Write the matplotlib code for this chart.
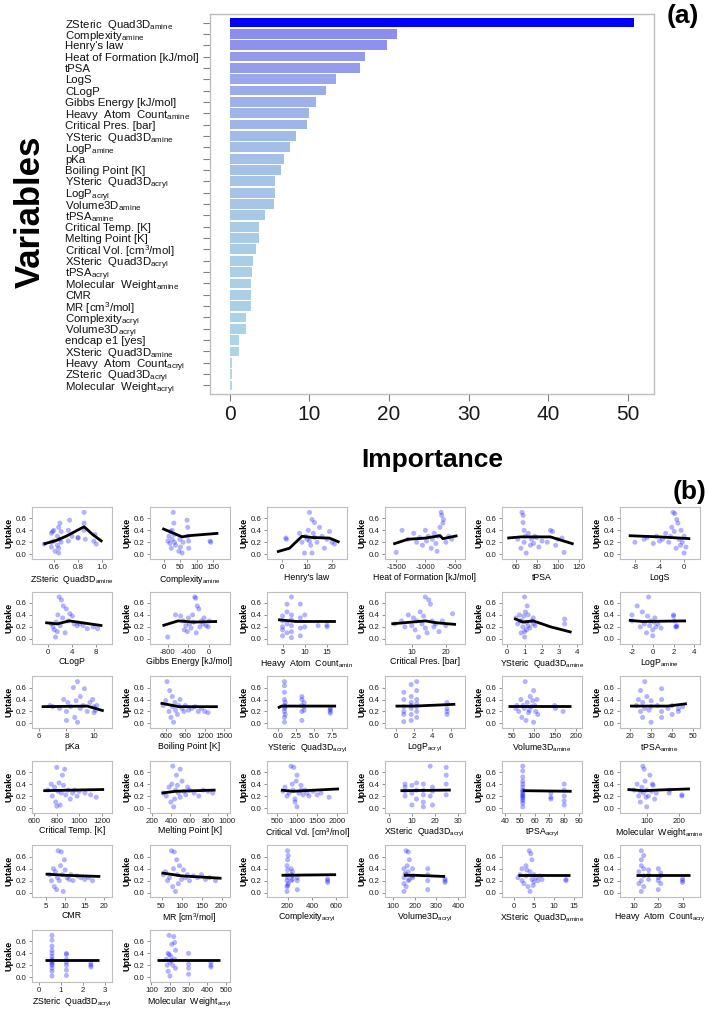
import matplotlib
matplotlib.use('Agg')
import matplotlib.pyplot as plt
import matplotlib.transforms as mtransforms
from matplotlib.colors import LinearSegmentedColormap, Normalize

plt.rcParams['font.family'] = ['Liberation Sans', 'DejaVu Sans']
plt.rcParams['mathtext.fontset'] = 'custom'
plt.rcParams['mathtext.rm'] = 'Liberation Sans'
plt.rcParams['mathtext.it'] = 'Liberation Sans:italic'
plt.rcParams['mathtext.bf'] = 'Liberation Sans:bold'
plt.rcParams['axes.unicode_minus'] = False

# ---------------- panel (a): variable importance ----------------
variables = [
    r'ZSteric  Quad3D$_{\mathrm{amine}}$', r'Complexity$_{\mathrm{amine}}$', "Henry's law",
    'Heat of Formation [kJ/mol]', 'tPSA', 'LogS', 'CLogP', 'Gibbs Energy [kJ/mol]',
    r'Heavy  Atom  Count$_{\mathrm{amine}}$', 'Critical Pres. [bar]',
    r'YSteric  Quad3D$_{\mathrm{amine}}$', r'LogP$_{\mathrm{amine}}$', 'pKa', 'Boiling Point [K]',
    r'YSteric  Quad3D$_{\mathrm{acryl}}$', r'LogP$_{\mathrm{acryl}}$', r'Volume3D$_{\mathrm{amine}}$',
    r'tPSA$_{\mathrm{amine}}$', 'Critical Temp. [K]', 'Melting Point [K]',
    r'Critical Vol. [cm$^{3}$/mol]', r'XSteric  Quad3D$_{\mathrm{acryl}}$', r'tPSA$_{\mathrm{acryl}}$',
    r'Molecular  Weight$_{\mathrm{amine}}$', 'CMR', r'MR [cm$^{3}$/mol]', r'Complexity$_{\mathrm{acryl}}$',
    r'Volume3D$_{\mathrm{acryl}}$', 'endcap e1 [yes]', r'XSteric  Quad3D$_{\mathrm{amine}}$',
    r'Heavy  Atom  Count$_{\mathrm{acryl}}$', r'ZSteric  Quad3D$_{\mathrm{acryl}}$',
    r'Molecular  Weight$_{\mathrm{acryl}}$']
importance = [50.8, 21.0, 19.8, 17.0, 16.3, 13.3, 12.1, 10.8, 10.0, 9.7, 8.3, 7.5, 6.8,
              6.4, 5.7, 5.65, 5.5, 4.4, 3.6, 3.6, 3.3, 2.85, 2.8, 2.7, 2.65, 2.6, 2.0,
              2.0, 1.15, 1.1, 0.3, 0.25, 0.25]
importance_ticks = [0, 10, 20, 30, 40, 50]

# ---------------- panel (b): partial dependence plots ----------------
zs_amine_x = [0.52, 0.58, 0.58, 0.58, 0.59, 0.60, 0.60, 0.61, 0.63, 0.63, 0.64, 0.64, 0.64, 0.65, 0.65,
              0.66, 0.66, 0.72, 0.72, 0.73, 0.75, 0.80, 0.80, 0.85, 0.85, 0.85, 0.86, 0.93, 0.94, 0.95]
zs_amine_y = [0.17, 0.12, 0.20, 0.35, 0.38, 0.40, 0.22, 0.05, 0.15, 0.30, 0.02, 0.10, 0.45, 0.25, 0.52,
              0.20, 0.38, 0.22, 0.40, 0.57, 0.30, 0.27, 0.28, 0.70, 0.52, 0.40, 0.25, 0.22, 0.33, 0.17]
zs_amine_fx = [0.515, 0.62, 0.70, 0.85, 0.92, 1.0]
zs_amine_fy = [0.17, 0.23, 0.30, 0.46, 0.33, 0.21]

cx_amine_x = [12, 15, 18, 20, 22, 25, 25, 28, 30, 30, 32, 35, 45, 48, 50, 55, 58, 70, 72, 72, 75, 75, 140, 142]
cx_amine_y = [0.22, 0.30, 0.18, 0.38, 0.10, 0.25, 0.40, 0.70, 0.52, 0.33, 0.20, 0.15, 0.05, 0.25, 0.12,
              0.02, 0.20, 0.57, 0.45, 0.30, 0.22, 0.10, 0.22, 0.20]
cx_amine_fx = [-5, 25, 55, 75, 165]
cx_amine_fy = [0.43, 0.36, 0.29, 0.31, 0.35]

henry_x = [1.5, 1.8, 7, 8, 9, 9.5, 10, 10.5, 11, 11, 11.5, 12, 12, 12.5, 13, 13, 14, 15, 16, 17, 18, 19, 20, 21]
henry_y = [0.27, 0.25, 0.35, 0.20, 0.02, 0.30, 0.25, 0.40, 0.70, 0.22, 0.15, 0.58, 0.02, 0.35, 0.53,
           0.28, 0.20, 0.45, 0.30, 0.10, 0.25, 0.38, 0.20, 0.17]
henry_fx = [-2, 3, 8, 12, 19, 23]
henry_fy = [0.04, 0.10, 0.30, 0.28, 0.27, 0.20]

heat_x = [-1500, -1400, -1300, -1200, -1150, -1100, -1050, -1000, -980, -950, -900, -880, -850, -820,
          -800, -780, -750, -730, -720, -700, -690, -650, -600, -550]
heat_y = [0.03, 0.40, 0.25, 0.35, 0.20, 0.28, 0.15, 0.40, 0.22, 0.30, 0.10, 0.25, 0.35, 0.18, 0.05,
          0.30, 0.45, 0.70, 0.65, 0.52, 0.58, 0.20, 0.30, 0.25]
heat_fx = [-1550, -1300, -1000, -750, -700, -450]
heat_fy = [0.17, 0.25, 0.27, 0.31, 0.26, 0.31]

tpsa_x = [62, 65, 66, 67, 67, 68, 68, 69, 70, 72, 74, 75, 77, 78, 80, 82, 85, 90, 93, 95, 98, 100, 104, 106]
tpsa_y = [0.25, 0.10, 0.70, 0.65, 0.53, 0.40, 0.20, 0.30, 0.02, 0.35, 0.15, 0.25, 0.18, 0.30, 0.28,
          0.12, 0.22, 0.20, 0.40, 0.38, 0.15, 0.25, 0.27, 0.03]
tpsa_fx = [52, 65, 93, 115]
tpsa_fy = [0.27, 0.29, 0.29, 0.17]

logs_x = [-8, -6.5, -6, -5, -4.5, -4, -3.5, -3, -2.5, -2.2, -2, -1.8, -1.6, -1.5, -1.3, -1.2, -1,
          -0.8, -0.6, -0.5, -0.3, 0, 0, 0.3]
logs_y = [0.20, 0.25, 0.28, 0.18, 0.30, 0.22, 0.25, 0.35, 0.20, 0.30, 0.45, 0.70, 0.38, 0.68, 0.10,
          0.58, 0.52, 0.25, 0.15, 0.40, 0.20, 0.02, 0.30, 0.12]
logs_fx = [-9, -4, 1]
logs_fy = [0.31, 0.29, 0.26]

clogp_x = [0.5, 0.8, 1.0, 1.2, 1.3, 1.5, 1.6, 1.8, 2.0, 2.2, 2.4, 2.5, 2.8, 3.0, 3.3, 3.6, 4.0, 4.3,
           4.8, 5.2, 5.8, 6.5, 7.5, 8.2]
clogp_y = [0.25, 0.20, 0.15, 0.03, 0.28, 0.12, 0.40, 0.70, 0.22, 0.65, 0.35, 0.55, 0.10, 0.50, 0.30,
           0.42, 0.38, 0.25, 0.22, 0.25, 0.22, 0.17, 0.20, 0.17]
clogp_fx = [-0.5, 1.5, 3.5, 9]
clogp_fy = [0.27, 0.25, 0.30, 0.22]

gibbs_x = [-800, -650, -550, -500, -480, -450, -420, -400, -380, -350, -320, -300, -280, -260, -250,
           -230, -200, -180, -150, -120, -100, -60, -20, 0]
gibbs_y = [0.03, 0.40, 0.38, 0.30, 0.15, 0.22, 0.12, 0.35, 0.25, 0.18, 0.40, 0.28, 0.70, 0.68, 0.10,
           0.55, 0.50, 0.20, 0.30, 0.25, 0.35, 0.22, 0.20, 0.30]
gibbs_fx = [-900, -600, -300, 150]
gibbs_fy = [0.22, 0.30, 0.28, 0.29]

hac_amine_x = [5, 5, 5, 5, 5, 6, 6, 6, 6, 7, 7, 7, 7, 7, 7, 9, 9, 9, 9, 10, 10, 13, 15, 15]
hac_amine_y = [0.05, 0.20, 0.30, 0.38, 0.15, 0.10, 0.25, 0.45, 0.58, 0.02, 0.12, 0.22, 0.32, 0.40, 0.70,
               0.05, 0.18, 0.35, 0.58, 0.20, 0.40, 0.22, 0.20, 0.23]
hac_amine_fx = [4, 8, 17]
hac_amine_fy = [0.32, 0.29, 0.29]

crit_pres_x = [5, 7, 8, 9, 10, 10.5, 11, 11.5, 12, 12.5, 13, 13.5, 14, 14, 14.5, 15, 15.5, 16, 16.5,
               17, 18, 19, 20, 22]
crit_pres_y = [0.25, 0.30, 0.20, 0.40, 0.22, 0.35, 0.15, 0.30, 0.03, 0.45, 0.25, 0.38, 0.70, 0.18, 0.10,
               0.65, 0.58, 0.30, 0.20, 0.25, 0.12, 0.30, 0.22, 0.42]
crit_pres_fx = [4, 10, 14, 17, 23]
crit_pres_fy = [0.25, 0.28, 0.30, 0.27, 0.24]

ys_amine_x = [0.5, 0.6, 0.7, 0.8, 0.85, 0.9, 0.95, 1.0, 1.0, 1.05, 1.1, 1.1, 1.15, 1.2, 1.2, 1.3, 1.4,
              1.5, 1.5, 1.6, 3.3, 3.3, 1.0, 0.75]
ys_amine_y = [0.35, 0.25, 0.40, 0.10, 0.30, 0.20, 0.38, 0.70, 0.03, 0.45, 0.15, 0.28, 0.55, 0.22, 0.40,
              0.18, 0.30, 0.25, 0.35, 0.22, 0.33, 0.25, 0.12, 0.30]
ys_amine_fx = [0.4, 0.9, 1.5, 2.5, 3.7]
ys_amine_fy = [0.34, 0.28, 0.30, 0.20, 0.11]

logp_amine_x = [-2, -2, -1.5, -1.2, -1, -0.8, -0.6, -0.5, -0.4, -0.3, -0.2, 0, 0, 0.1, 0.2, 0.3, 0.5,
                0.8, 2, 2, 2.1, 2.2, 2.3, 2.3]
logp_amine_y = [0.40, 0.30, 0.55, 0.20, 0.45, 0.25, 0.10, 0.38, 0.70, 0.22, 0.30, 0.05, 0.15, 0.28, 0.35,
                0.20, 0.25, 0.18, 0.40, 0.38, 0.30, 0.20, 0.22, 0.20]
logp_amine_fx = [-2.3, -1, 3.2]
logp_amine_fy = [0.31, 0.29, 0.30]

pka_x = [6.8, 7.5, 7.8, 8.0, 8.0, 8.1, 8.3, 8.5, 8.6, 8.7, 8.8, 8.8, 9.0, 9.0, 9.2, 9.3, 9.5, 9.7,
         9.9, 10.0, 10.0, 10.1, 10.2, 7.0]
pka_y = [0.30, 0.25, 0.40, 0.05, 0.20, 0.35, 0.28, 0.60, 0.10, 0.38, 0.70, 0.02, 0.25, 0.45, 0.30,
         0.58, 0.20, 0.35, 0.40, 0.18, 0.28, 0.22, 0.30, 0.28]
pka_fx = [6.2, 9.5, 10.7]
pka_fy = [0.28, 0.29, 0.21]

boil_x = [560, 600, 620, 650, 660, 680, 700, 700, 720, 740, 750, 780, 800, 820, 850, 880, 900, 950,
          1000, 1050, 1100, 1150, 1200, 1250]
boil_y = [0.30, 0.38, 0.70, 0.20, 0.55, 0.10, 0.28, 0.45, 0.02, 0.35, 0.22, 0.15, 0.30, 0.40, 0.25,
          0.20, 0.30, 0.22, 0.25, 0.28, 0.20, 0.25, 0.20, 0.18]
boil_fx = [520, 800, 1400]
boil_fy = [0.34, 0.28, 0.28]

ys_acryl_x = [0.9, 0.9, 0.9, 0.9, 0.9, 0.9, 0.9, 0.9, 0.9, 1.0, 1.0, 1.0, 3.3, 3.3, 3.3, 3.3, 3.3,
              3.6, 3.6, 3.6, 7.2, 7.2, 7.2, 7.2]
ys_acryl_y = [0.02, 0.10, 0.20, 0.25, 0.30, 0.40, 0.52, 0.63, 0.70, 0.15, 0.35, 0.28, 0.05, 0.20, 0.30,
              0.40, 0.45, 0.22, 0.28, 0.35, 0.17, 0.20, 0.23, 0.25]
ys_acryl_fx = [0, 0.5, 8]
ys_acryl_fy = [0.26, 0.29, 0.29]

logp_acryl_x = [0.9, 0.9, 0.9, 0.9, 0.9, 1.7, 1.7, 1.7, 1.7, 1.7, 1.7, 2.3, 2.3, 2.3, 2.3, 2.3, 2.3,
                2.3, 5.6, 5.6, 5.6, 5.6, 1.7, 0.9]
logp_acryl_y = [0.03, 0.20, 0.28, 0.40, 0.52, 0.05, 0.15, 0.25, 0.35, 0.45, 0.65, 0.10, 0.20, 0.28, 0.33,
                0.40, 0.55, 0.70, 0.15, 0.20, 0.25, 0.35, 0.30, 0.15]
logp_acryl_fx = [0, 2, 6.5]
logp_acryl_fy = [0.29, 0.29, 0.32]

vol_amine_x = [60, 65, 70, 72, 75, 78, 80, 82, 85, 88, 90, 92, 95, 98, 100, 100, 103, 105, 108, 110,
               150, 152, 170, 58]
vol_amine_y = [0.30, 0.20, 0.40, 0.10, 0.30, 0.25, 0.70, 0.05, 0.35, 0.18, 0.22, 0.45, 0.28, 0.38, 0.55,
               0.02, 0.30, 0.20, 0.40, 0.15, 0.30, 0.25, 0.20, 0.25]
vol_amine_fx = [40, 190]
vol_amine_fy = [0.29, 0.29]

tpsa_amine_x = [23, 24, 25, 25, 26, 26, 27, 27, 28, 30, 30, 30, 33, 35, 35, 35, 35, 38, 40, 40, 43, 43, 45, 29]
tpsa_amine_y = [0.30, 0.40, 0.20, 0.55, 0.10, 0.35, 0.25, 0.70, 0.45, 0.02, 0.28, 0.38, 0.30, 0.10, 0.20,
                0.40, 0.58, 0.25, 0.15, 0.30, 0.20, 0.25, 0.28, 0.22]
tpsa_amine_fx = [20, 38, 47]
tpsa_amine_fy = [0.29, 0.29, 0.33]

crit_temp_x = [720, 760, 780, 790, 800, 810, 820, 830, 840, 850, 860, 880, 900, 920, 940, 960, 980,
               1000, 1050, 1100, 1150, 800, 870, 750]
crit_temp_y = [0.30, 0.20, 0.35, 0.10, 0.68, 0.28, 0.42, 0.05, 0.25, 0.55, 0.38, 0.22, 0.30, 0.15, 0.25,
               0.30, 0.20, 0.28, 0.25, 0.22, 0.18, 0.03, 0.65, 0.40]
crit_temp_fx = [680, 1220]
crit_temp_fy = [0.29, 0.31]

melt_x = [320, 350, 380, 400, 410, 420, 430, 450, 460, 480, 500, 500, 520, 540, 560, 580, 600, 650,
          700, 750, 800, 850, 470, 440]
melt_y = [0.25, 0.20, 0.35, 0.10, 0.40, 0.70, 0.02, 0.30, 0.55, 0.25, 0.65, 0.18, 0.45, 0.28, 0.22,
          0.35, 0.30, 0.25, 0.20, 0.30, 0.28, 0.25, 0.38, 0.15]
melt_fx = [300, 450, 880]
melt_fy = [0.25, 0.28, 0.30]

crit_vol_x = [650, 700, 750, 800, 850, 880, 900, 920, 950, 980, 1000, 1050, 1100, 1150, 1200, 1250,
              1300, 1400, 1500, 1600, 1800, 1000, 950, 1100]
crit_vol_y = [0.28, 0.35, 0.20, 0.25, 0.70, 0.40, 0.30, 0.68, 0.10, 0.45, 0.02, 0.25, 0.38, 0.22, 0.30,
              0.25, 0.20, 0.28, 0.22, 0.25, 0.18, 0.55, 0.15, 0.30]
crit_vol_fx = [600, 900, 2050]
crit_vol_fy = [0.30, 0.28, 0.32]

xs_acryl_x = [7, 7, 7, 7, 10, 10, 10, 12, 12, 12, 15, 15, 15, 15, 15, 18, 18, 19, 19, 19, 25, 25, 25, 25]
xs_acryl_y = [0.20, 0.28, 0.35, 0.40, 0.05, 0.25, 0.38, 0.15, 0.30, 0.42, 0.02, 0.10, 0.22, 0.30, 0.40,
              0.20, 0.70, 0.05, 0.28, 0.35, 0.22, 0.40, 0.55, 0.68]
xs_acryl_fx = [5, 27]
xs_acryl_fy = [0.29, 0.30]

tpsa_acryl_x = [52, 52, 52, 52, 52, 52, 52, 52, 52, 52, 52, 52, 52, 52, 52, 52, 71, 71, 71, 80, 80, 80, 80, 80]
tpsa_acryl_y = [0.02, 0.08, 0.12, 0.15, 0.18, 0.20, 0.22, 0.25, 0.28, 0.30, 0.35, 0.40, 0.45, 0.52, 0.62,
                0.70, 0.15, 0.18, 0.25, 0.05, 0.12, 0.20, 0.30, 0.40]
tpsa_acryl_fx = [52, 85]
tpsa_acryl_fy = [0.29, 0.28]

mw_amine_x = [60, 70, 75, 80, 85, 88, 90, 95, 100, 100, 105, 110, 115, 120, 125, 130, 170, 172, 210, 210,
              92, 98, 118, 80]
mw_amine_y = [0.30, 0.40, 0.20, 0.10, 0.35, 0.70, 0.25, 0.45, 0.02, 0.30, 0.20, 0.55, 0.28, 0.38, 0.15,
              0.25, 0.25, 0.30, 0.20, 0.22, 0.65, 0.18, 0.40, 0.28]
mw_amine_fx = [40, 90, 130, 235]
mw_amine_fy = [0.31, 0.29, 0.30, 0.32]

cmr_x = [6, 6.5, 7, 7.2, 7.5, 7.8, 8, 8.2, 8.5, 8.8, 9, 9.3, 9.5, 10, 10.5, 11, 11.5, 12, 13, 14, 15, 16, 17, 9.8]
cmr_y = [0.30, 0.20, 0.40, 0.10, 0.35, 0.05, 0.25, 0.70, 0.20, 0.45, 0.68, 0.30, 0.02, 0.38, 0.25,
         0.22, 0.30, 0.20, 0.28, 0.25, 0.22, 0.25, 0.20, 0.55]
cmr_fx = [5, 10, 19]
cmr_fy = [0.31, 0.29, 0.27]

mr_x = [55, 60, 65, 70, 75, 78, 80, 82, 85, 88, 90, 95, 100, 105, 110, 115, 120, 130, 140, 150, 160,
        170, 185, 92]
mr_y = [0.30, 0.35, 0.20, 0.25, 0.70, 0.10, 0.40, 0.68, 0.02, 0.55, 0.30, 0.45, 0.22, 0.38, 0.25,
        0.30, 0.20, 0.28, 0.25, 0.30, 0.22, 0.25, 0.20, 0.15]
mr_fx = [50, 100, 200]
mr_fy = [0.33, 0.28, 0.24]

cx_acryl_x = [195, 195, 195, 195, 195, 200, 200, 200, 200, 205, 205, 230, 230, 230, 240, 240, 240,
              280, 280, 280, 530, 530, 530, 200]
cx_acryl_y = [0.02, 0.10, 0.20, 0.30, 0.45, 0.12, 0.25, 0.38, 0.70, 0.15, 0.62, 0.20, 0.30, 0.40, 0.22,
              0.28, 0.35, 0.05, 0.20, 0.25, 0.17, 0.20, 0.23, 0.55]
cx_acryl_fx = [150, 600]
cx_acryl_fy = [0.29, 0.30]

vol_acryl_x = [150, 150, 150, 150, 160, 160, 160, 170, 170, 170, 175, 175, 190, 190, 190, 260, 260,
               260, 260, 340, 340, 340, 165, 155]
vol_acryl_y = [0.02, 0.15, 0.25, 0.40, 0.10, 0.30, 0.70, 0.20, 0.35, 0.68, 0.22, 0.55, 0.25, 0.28, 0.40,
               0.05, 0.20, 0.30, 0.40, 0.17, 0.20, 0.23, 0.45, 0.32]
vol_acryl_fx = [150, 200, 340]
vol_acryl_fy = [0.29, 0.29, 0.27]

xs_amine_x = [1, 1.5, 2, 2, 2.5, 3, 3, 3.5, 3.8, 4, 4, 4.2, 4.5, 4.5, 5, 5, 5.5, 6, 6.5, 7, 13, 13, 3.2, 4.8]
xs_amine_y = [0.25, 0.30, 0.20, 0.40, 0.15, 0.28, 0.45, 0.10, 0.70, 0.02, 0.35, 0.65, 0.22, 0.55, 0.30,
              0.18, 0.25, 0.20, 0.28, 0.22, 0.20, 0.22, 0.38, 0.12]
xs_amine_fx = [1, 14]
xs_amine_fy = [0.29, 0.29]

hac_acryl_x = [12, 12, 13, 13, 13, 13, 14, 14, 14, 14, 16, 16, 16, 20, 20, 20, 20, 21, 21, 21, 30, 30, 30, 13]
hac_acryl_y = [0.15, 0.35, 0.02, 0.20, 0.45, 0.70, 0.10, 0.28, 0.40, 0.62, 0.22, 0.30, 0.38, 0.05, 0.20,
               0.25, 0.40, 0.15, 0.28, 0.33, 0.17, 0.20, 0.23, 0.55]
hac_acryl_fx = [11, 33]
hac_acryl_fy = [0.29, 0.29]

zs_acryl_x = [0.6, 0.6, 0.6, 0.6, 0.6, 0.6, 0.6, 0.6, 0.6, 0.6, 0.6, 0.6, 0.6, 0.6,
              1.25, 1.25, 1.25, 1.25, 1.25, 1.25, 1.25, 2.35, 2.35, 2.35]
zs_acryl_y = [0.02, 0.10, 0.15, 0.20, 0.22, 0.25, 0.28, 0.30, 0.35, 0.40, 0.45, 0.52, 0.62, 0.70,
              0.03, 0.12, 0.20, 0.25, 0.30, 0.38, 0.40, 0.17, 0.20, 0.23]
zs_acryl_fx = [0.3, 2.7]
zs_acryl_fy = [0.29, 0.29]

mw_acryl_x = [180, 185, 190, 190, 195, 200, 200, 205, 210, 215, 220, 225, 230, 230, 300, 300, 300,
              300, 420, 420, 420, 195, 210, 225]
mw_acryl_y = [0.30, 0.20, 0.40, 0.10, 0.70, 0.25, 0.02, 0.35, 0.55, 0.20, 0.68, 0.30, 0.15, 0.45, 0.05,
              0.15, 0.22, 0.40, 0.17, 0.20, 0.25, 0.38, 0.28, 0.58]
mw_acryl_fx = [130, 470]
mw_acryl_fy = [0.29, 0.29]

uptake_ticks = [0.0, 0.2, 0.4, 0.6]

panels = [
    (r'ZSteric  Quad3D$_{\mathrm{amine}}$', zs_amine_x, zs_amine_y, zs_amine_fx, zs_amine_fy, (0.42, 1.08), [0.6, 0.8, 1.0]),
    (r'Complexity$_{\mathrm{amine}}$', cx_amine_x, cx_amine_y, cx_amine_fx, cx_amine_fy, (-44, 199), [0, 50, 100, 150]),
    ("Henry's law", henry_x, henry_y, henry_fx, henry_fy, (-6, 26), [0, 10, 20]),
    ('Heat of Formation [kJ/mol]', heat_x, heat_y, heat_fx, heat_fy, (-1700, -330), [-1500, -1000, -500]),
    ('tPSA', tpsa_x, tpsa_y, tpsa_fx, tpsa_fy, (47, 123), [60, 80, 100, 120]),
    ('LogS', logs_x, logs_y, logs_fx, logs_fy, (-10.5, 2.5), [-8, -4, 0]),
    ('CLogP', clogp_x, clogp_y, clogp_fx, clogp_fy, (-2.7, 10.6), [0, 4, 8]),
    ('Gibbs Energy [kJ/mol]', gibbs_x, gibbs_y, gibbs_fx, gibbs_fy, (-1150, 390), [-800, -400, 0]),
    (r'Heavy  Atom  Count$_{\mathrm{amin}}$', hac_amine_x, hac_amine_y, hac_amine_fx, hac_amine_fy, (1.5, 19.5), [5, 10, 15]),
    ('Critical Pres. [bar]', crit_pres_x, crit_pres_y, crit_pres_fx, crit_pres_fy, (2, 25.5), [10, 20]),
    (r'YSteric  Quad3D$_{\mathrm{amine}}$', ys_amine_x, ys_amine_y, ys_amine_fx, ys_amine_fy, (-0.3, 4.3), [0, 1, 2, 3, 4]),
    (r'LogP$_{\mathrm{amine}}$', logp_amine_x, logp_amine_y, logp_amine_fx, logp_amine_fy, (-3.2, 4.5), [-2, 0, 2, 4]),
    ('pKa', pka_x, pka_y, pka_fx, pka_fy, (5.5, 11.3), [6, 8, 10]),
    ('Boiling Point [K]', boil_x, boil_y, boil_fx, boil_fy, (350, 1580), [600, 900, 1200, 1500]),
    (r'YSteric  Quad3D$_{\mathrm{acryl}}$', ys_acryl_x, ys_acryl_y, ys_acryl_fx, ys_acryl_fy, (-1.5, 9.5), [0, 2.5, 5.0, 7.5]),
    (r'LogP$_{\mathrm{acryl}}$', logp_acryl_x, logp_acryl_y, logp_acryl_fx, logp_acryl_fy, (-1.2, 7.5), [0, 2, 4, 6]),
    (r'Volume3D$_{\mathrm{amine}}$', vol_amine_x, vol_amine_y, vol_amine_fx, vol_amine_fy, (25, 215), [50, 100, 150, 200]),
    (r'tPSA$_{\mathrm{amine}}$', tpsa_amine_x, tpsa_amine_y, tpsa_amine_fx, tpsa_amine_fy, (15, 53), [20, 30, 40, 50]),
    ('Critical Temp. [K]', crit_temp_x, crit_temp_y, crit_temp_fx, crit_temp_fy, (580, 1290), [600, 800, 1000, 1200]),
    ('Melting Point [K]', melt_x, melt_y, melt_fx, melt_fy, (170, 1030), [200, 400, 600, 800, 1000]),
    (r'Critical Vol. [cm$^{3}$/mol]', crit_vol_x, crit_vol_y, crit_vol_fx, crit_vol_fy, (250, 2250), [500, 1000, 1500, 2000]),
    (r'XSteric  Quad3D$_{\mathrm{acryl}}$', xs_acryl_x, xs_acryl_y, xs_acryl_fx, xs_acryl_fy, (-2, 33), [0, 10, 20, 30]),
    (r'tPSA$_{\mathrm{acryl}}$', tpsa_acryl_x, tpsa_acryl_y, tpsa_acryl_fx, tpsa_acryl_fy, (38, 92), [40, 50, 60, 70, 80, 90]),
    (r'Molecular  Weight$_{\mathrm{amine}}$', mw_amine_x, mw_amine_y, mw_amine_fx, mw_amine_fy, (15, 265), [100, 200]),
    ('CMR', cmr_x, cmr_y, cmr_fx, cmr_fy, (1.5, 22), [5, 10, 15, 20]),
    (r'MR [cm$^{3}$/mol]', mr_x, mr_y, mr_fx, mr_fy, (20, 220), [50, 100, 150, 200]),
    (r'Complexity$_{\mathrm{acryl}}$', cx_acryl_x, cx_acryl_y, cx_acryl_fx, cx_acryl_fy, (30, 690), [200, 400, 600]),
    (r'Volume3D$_{\mathrm{acryl}}$', vol_acryl_x, vol_acryl_y, vol_acryl_fx, vol_acryl_fy, (60, 430), [100, 200, 300, 400]),
    (r'XSteric  Quad3D$_{\mathrm{amine}}$', xs_amine_x, xs_amine_y, xs_amine_fx, xs_amine_fy, (-3, 17), [0, 5, 10, 15]),
    (r'Heavy  Atom  Count$_{\mathrm{acry}}$', hac_acryl_x, hac_acryl_y, hac_acryl_fx, hac_acryl_fy, (4, 37), [10, 20, 30]),
    (r'ZSteric  Quad3D$_{\mathrm{acryl}}$', zs_acryl_x, zs_acryl_y, zs_acryl_fx, zs_acryl_fy, (-0.3, 3.3), [0, 1, 2, 3]),
    (r'Molecular  Weight$_{\mathrm{acryl}}$', mw_acryl_x, mw_acryl_y, mw_acryl_fx, mw_acryl_fy, (90, 520), [100, 200, 300, 400, 500]),
]

W, H = 708, 1010
GRID = '#BEBEBE'
fig = plt.figure(figsize=(W / 100, H / 100), dpi=100)


def px_axes(left, top, width, height):
    return fig.add_axes([left / W, 1 - (top + height) / H, width / W, height / H])


# ---- bar chart ----
ax = px_axes(210, 14, 444, 380)
n = len(variables)
ypos = list(range(n - 1, -1, -1))
cmap = LinearSegmentedColormap.from_list('imp', [(0.0, '#ADD8E6'), (0.15, '#A2BCE7'), (0.3, '#979FEB'),
                                                 (0.42, '#8C8CF0'), (1.0, '#0000FF')])
norm = Normalize(min(importance), max(importance))
ax.barh(ypos, importance, height=0.86, color=[cmap(norm(v)) for v in importance], edgecolor='none')
ax.set_xlim(-2.5, 53.3)
ax.set_ylim(-0.75, n - 0.25)
ax.set_xticks(importance_ticks)
ax.set_xticklabels([str(t) for t in importance_ticks], fontsize=15, color='#1a1a1a')
ax.set_yticks(ypos)
ax.set_yticklabels([])
ax.tick_params(axis='both', color='#808080', length=5, width=0.8)
ax.tick_params(axis='x', pad=3)
for s in ax.spines.values():
    s.set_color(GRID)
    s.set_linewidth(1)
lab_tr = mtransforms.blended_transform_factory(fig.transFigure, ax.transData)
for name, yy in zip(variables, ypos):
    ax.text(65 / W, yy, name, transform=lab_tr, ha='left', va='center_baseline',
            fontsize=8.2, color='#111111')

fig.text(30 / W, 1 - 212 / H, 'Variables', rotation=90, ha='center', va='center',
         fontsize=25, fontweight='bold')
fig.text(432 / W, 1 - 460 / H, 'Importance', ha='center', va='center', fontsize=19, fontweight='bold')
fig.text(683 / W, 1 - 16 / H, '(a)', ha='center', va='center', fontsize=19, fontweight='bold')
fig.text(690 / W, 1 - 492 / H, '(b)', ha='center', va='center', fontsize=19, fontweight='bold')

# ---- small partial dependence panels ----
for i, (label, xs, ys, fx, fy, xlim, xticks) in enumerate(panels):
    row, col = divmod(i, 6)
    pax = px_axes(32 + col * 117.5, 507 + row * 84.6, 80, 52)
    pax.scatter(xs, ys, s=13, color='blue', alpha=0.3, edgecolors='none', zorder=2)
    pax.plot(fx, fy, color='black', lw=2, solid_capstyle='butt', zorder=3)
    pax.set_xlim(*xlim)
    pax.set_ylim(-0.08, 0.79)
    pax.set_xticks(xticks)
    if any(t != int(t) for t in xticks):
        pax.set_xticklabels(['%.1f' % t for t in xticks])
    else:
        pax.set_xticklabels([str(int(t)) for t in xticks])
    pax.set_yticks(uptake_ticks)
    pax.set_yticklabels(['%.1f' % t for t in uptake_ticks])
    pax.tick_params(labelsize=5.7, length=2.5, width=0.6, color='#808080', pad=1.2, labelcolor='#222222')
    pax.set_xlabel(label, fontsize=6.3, labelpad=1)
    pax.set_ylabel('Uptake', fontsize=6.5, fontweight='bold', labelpad=1.5)
    for s in pax.spines.values():
        s.set_color(GRID)
        s.set_linewidth(0.8)

fig.savefig('out.png', dpi=100)
